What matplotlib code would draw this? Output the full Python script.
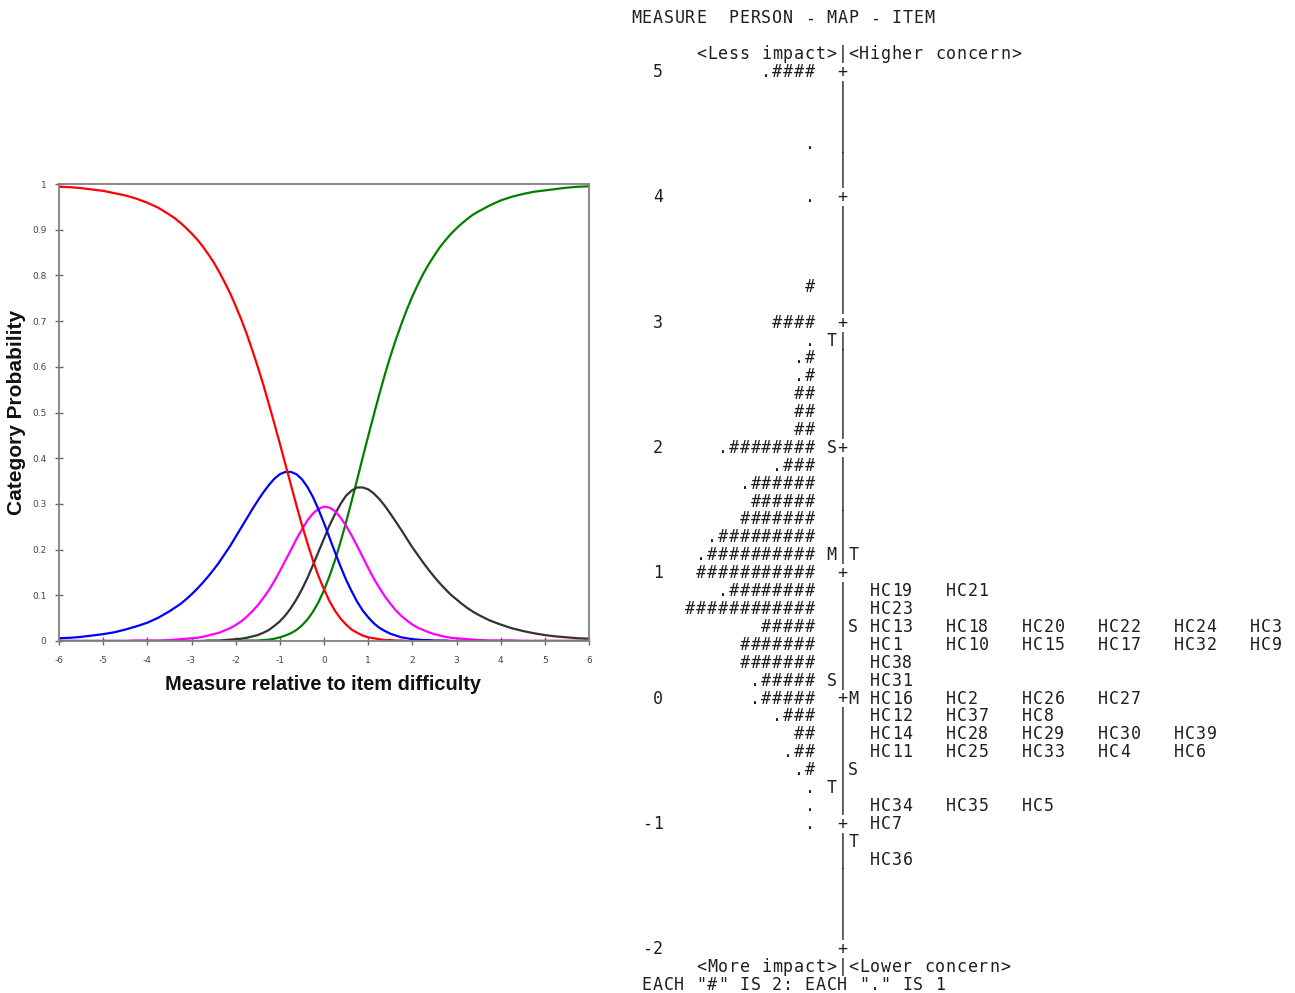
import numpy as np
import matplotlib.pyplot as plt

plt.rcParams['axes.unicode_minus'] = False

# category probability curves (x1000): 0.25 logit steps in the tails, 0.125 in the middle
measure = np.concatenate([np.linspace(-6, -3.75, 10), np.linspace(-3.5, 3.5, 57), np.linspace(3.75, 6, 10)])
cat_0 = np.array([994, 993, 991, 988, 985, 980, 975, 968, 959, 948,
                  933, 925, 915, 904, 892, 879, 864, 847, 829, 808, 785, 761, 733, 704, 672, 637, 600, 561, 519, 476,
                  432, 387, 342, 297, 254, 214, 176, 142, 113, 87, 66, 49, 36, 25, 18, 12, 8, 6, 4, 2,
                  2, 1, 1, 0, 0, 0, 0, 0, 0, 0, 0, 0, 0, 0, 0, 0, 0,
                  0, 0, 0, 0, 0, 0, 0, 0, 0, 0]) / 1000
cat_1 = np.array([6, 7, 9, 12, 15, 19, 25, 32, 40, 51,
                  65, 73, 81, 91, 102, 114, 127, 141, 156, 172, 190, 208, 228, 248, 268, 288, 307, 325, 341, 355,
                  365, 370, 370, 365, 354, 337, 315, 288, 258, 226, 194, 163, 134, 109, 86, 67, 52, 39, 29, 22,
                  16, 12, 8, 6, 4, 3, 2, 2, 1, 1, 1, 0, 0, 0, 0, 0, 0,
                  0, 0, 0, 0, 0, 0, 0, 0, 0, 0]) / 1000
cat_2 = np.array([0, 0, 0, 0, 0, 0, 0, 1, 1, 1,
                  2, 3, 4, 5, 6, 7, 9, 12, 15, 18, 23, 28, 35, 43, 53, 65, 78, 94, 111, 131,
                  153, 176, 199, 223, 244, 264, 279, 289, 294, 292, 284, 270, 252, 231, 208, 184, 160, 137, 117, 98,
                  82, 67, 55, 45, 36, 29, 24, 19, 15, 12, 9, 7, 6, 5, 4, 3, 2,
                  1, 1, 1, 0, 0, 0, 0, 0, 0, 0]) / 1000
cat_3 = np.array([0, 0, 0, 0, 0, 0, 0, 0, 0, 0,
                  0, 0, 0, 0, 0, 0, 0, 1, 1, 1, 2, 3, 4, 5, 7, 10, 13, 18, 24, 33,
                  43, 56, 72, 91, 113, 138, 166, 195, 224, 253, 278, 300, 318, 329, 336, 336, 332, 323, 311, 296,
                  279, 261, 243, 224, 205, 188, 171, 155, 140, 126, 113, 101, 91, 81, 72, 64, 57,
                  45, 36, 28, 22, 17, 13, 10, 8, 6, 5]) / 1000
cat_4 = np.array([0, 0, 0, 0, 0, 0, 0, 0, 0, 0,
                  0, 0, 0, 0, 0, 0, 0, 0, 0, 0, 0, 0, 0, 0, 1, 1, 1, 2, 3, 5,
                  8, 12, 17, 24, 34, 47, 64, 85, 111, 142, 177, 217, 260, 306, 353, 401, 448, 494, 539, 582,
                  622, 659, 693, 725, 754, 780, 804, 825, 844, 862, 877, 891, 903, 914, 924, 933, 940,
                  953, 964, 972, 978, 983, 986, 989, 992, 994, 995]) / 1000

# person-item map, one entry per row from measure 5 down to -2
map_measures = [5, 4, 3, 2, 1, 0, -1, -2]
rows_per_unit = 7
persons = [".####", "", "", "", ".", "", "", ".", "", "", "", "", "#", "",
           "####", ".", ".#", ".#", "##", "##", "##",
           ".########", ".###", ".######", "######", "#######", ".#########", ".##########",
           "###########", ".########", "############", "#####", "#######", "#######", ".#####",
           ".#####", ".###", "##", ".##", ".#", ".", ".",
           ".", "", "", "", "", "", "", ""]
person_marks = {15: "T", 21: "S", 27: "M", 34: "S", 40: "T"}
item_marks = {27: "T", 31: "S", 35: "M", 39: "S", 43: "T"}
items = {
    29: ["HC19", "HC21"],
    30: ["HC23"],
    31: ["HC13", "HC18", "HC20", "HC22", "HC24", "HC3"],
    32: ["HC1", "HC10", "HC15", "HC17", "HC32", "HC9"],
    33: ["HC38"],
    34: ["HC31"],
    35: ["HC16", "HC2", "HC26", "HC27"],
    36: ["HC12", "HC37", "HC8"],
    37: ["HC14", "HC28", "HC29", "HC30", "HC39"],
    38: ["HC11", "HC25", "HC33", "HC4", "HC6"],
    41: ["HC34", "HC35", "HC5"],
    42: ["HC7"],
    44: ["HC36"],
}
map_title = "MEASURE  PERSON - MAP - ITEM"
top_caption = "      <Less impact>|<Higher concern>"
bottom_caption = "      <More impact>|<Lower concern>"
key_note = ' EACH "#" IS 2: EACH "." IS 1'

W, H = 1295, 993
fig = plt.figure(figsize=(W / 100, H / 100), dpi=100)

# ---- category probability curves ----
ax = fig.add_axes([59 / W, 1 - 641 / H, 530 / W, 457 / H])
curves = [(cat_4, "#008000"), (cat_3, "#333333"), (cat_2, "#ff00ff"), (cat_1, "#0000ff"), (cat_0, "#ff0000")]
for vals, col in curves:
    ax.plot(measure, vals, color=col, lw=1.6, solid_joinstyle="round")

ax.set_xlim(-6, 6)
ax.set_ylim(0, 1)
ax.set_xticks(range(-6, 7))
ax.set_xticklabels([str(v) for v in range(-6, 7)])
yt = np.round(np.arange(0, 1.01, 0.1), 1)
ax.set_yticks(yt)
ax.set_yticklabels([f"{v:g}" for v in yt])
ax.tick_params(direction="inout", length=6, width=1, color="#666666",
               labelsize=6.5, labelcolor="#444444")
ax.tick_params(axis="x", pad=8)
ax.tick_params(axis="y", pad=6)
for sp in ax.spines.values():
    sp.set_color("#808080")
    sp.set_linewidth(1.3)

fig.text(323 / W, 1 - 684 / H, "Measure relative to item difficulty", ha="center", va="center",
         fontsize=14.4, fontweight="bold", family="Liberation Sans", color="#111111")
fig.text(17 / W, 1 - 412 / H, "Category Probability", ha="center", va="center", rotation=90,
         fontsize=15, fontweight="bold", family="Liberation Sans", color="#111111")

# ---- text map, drawn cell by cell on a fixed character grid ----
CW = 10.86
ROW = 17.9
X0 = 630.5
Y_FIRST = 71.0


def put(line, y):
    for col, ch in enumerate(line):
        if ch != " ":
            fig.text((X0 + (col + 0.5) * CW) / W, 1 - (y + 6) / H, ch, ha="center", va="baseline",
                     family="DejaVu Sans Mono", fontsize=12, color="#1e1e1e")


put(map_title, Y_FIRST - 3 * ROW)
put(top_caption, Y_FIRST - ROW)

labels = {(5 - m) * rows_per_unit: str(m) for m in map_measures}
for r, p in enumerate(persons):
    axis_ch = "+" if r in labels else "|"
    line = f"{labels.get(r, ''):>3}{p:>14} {person_marks.get(r, ' ')}{axis_ch}{item_marks.get(r, ' ')} "
    line += "".join(f"{it:<7}" for it in items.get(r, []))
    put(line.rstrip(), Y_FIRST + r * ROW)

n = len(persons)
put(bottom_caption, Y_FIRST + n * ROW)
put(key_note, Y_FIRST + (n + 1) * ROW)

fig.savefig("out.png", dpi=100)
